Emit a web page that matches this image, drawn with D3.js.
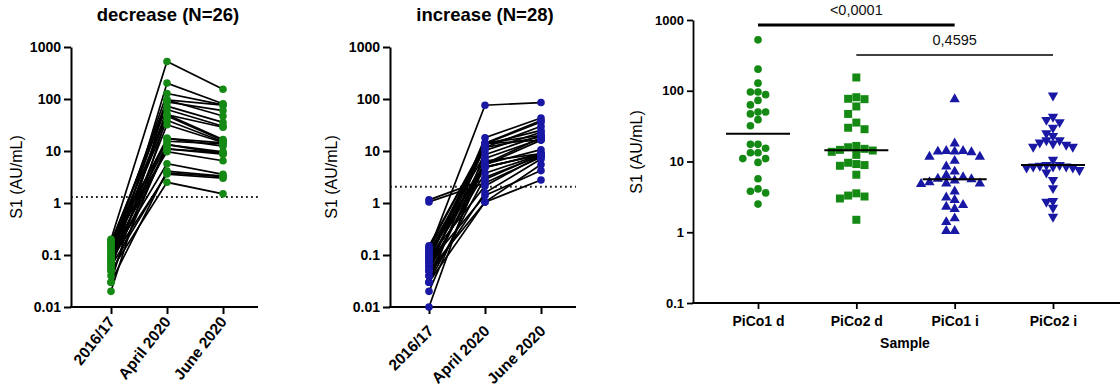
<!DOCTYPE html>
<html><head><meta charset="utf-8">
<script src="https://cdn.jsdelivr.net/npm/d3@7"></script>
<style>
html,body{margin:0;padding:0;background:#fff;}
svg{display:block;font-family:"Liberation Sans",Arial,sans-serif;}
</style></head>
<body>
<svg id="c" width="1120" height="392"></svg>
<script>
// ---------- DATA ----------
const timepoints = ["2016/17", "April 2020", "June 2020"];
const panelTitles = ["decrease (N=26)", "increase (N=28)"];
const yTicksPaired = [0.01, 0.1, 1, 10, 100, 1000];
const yTicksGroups = [0.1, 1, 10, 100, 1000];
const yLabel = "S1 (AU/mL)";

// decrease group (26 subjects), paired values per timepoint
const decBase  = [0.2,0.05,0.12,0.16,0.03,0.1,0.18,0.07,0.14,0.09,0.02,0.11,0.06,0.15,0.08,0.19,0.04,0.13,0.1,0.07,0.17,0.09,0.03,0.06,0.08,0.05];
const decApril = [525,202,128,96,96,88,73,63,50,50,47,39,32,17.5,17.5,15.4,13.3,13.3,11,11,9.7,5.7,4.1,3.8,3.6,2.5];
const decJune  = [154,81,77,47,76,60,35.5,30,16.6,28.6,15.9,15.1,14.6,14.3,12.4,13.7,9.6,8.9,9.2,8.7,6.5,3.55,3.3,3.2,3.0,1.5];
const decCutoff = 1.3;

// increase group (28 subjects)
const incBase  = [0.12,0.05,0.15,0.08,0.1,0.03,0.14,0.06,0.09,0.01,0.13,0.07,0.04,0.11,0.02,0.1,0.05,0.08,0.12,0.06,0.03,1.15,1.05,0.09,0.04,0.07,0.05,0.03];
const incApril = [76,18,14.1,14.1,13.8,13.8,13.5,11.7,11.7,10.2,8.5,7.2,6.4,5.7,5.6,5.4,4.9,4.9,4.8,3.76,3.1,2.85,2.43,2.13,1.57,1.39,1.04,1.04];
const incJune  = [85.5,43,20,38.7,16.2,36,25,30,18.6,23,20,17.2,8.9,18,10.6,16.2,8.5,8.7,8.9,8.5,8.2,8.5,7.6,8.2,7.0,4.2,5.5,2.77];
const incCutoff = 2.05;

// right panel: groups
const groupNames = ["PiCo1 d", "PiCo2 d", "PiCo1 i", "PiCo2 i"];
const pico1d = [525,202,128,96,96,88,73,63,50,50,47,39,32,17.5,17.5,15.4,13.3,13.3,11,11,9.7,5.7,4.1,3.8,3.6,2.5];
const pico2d = [154,81,77,76,60,47,35.5,30,28.6,16.6,15.9,15.1,14.6,14.3,13.7,12.4,9.6,9.2,8.9,8.7,6.5,3.55,3.3,3.2,3.0,1.5];
const pico1i = [76,18,14.1,14.1,13.8,13.8,13.5,11.7,11.7,10.2,8.5,7.2,6.4,6.0,5.7,5.6,5.4,5.1,4.9,4.9,4.8,3.76,3.1,2.85,2.43,2.3,2.13,1.57,1.39,1.04,1.04];
const pico2i = [85.5,43,38.7,36,30,25,23,20,20,18.6,18,17.2,16.2,16.2,10.6,8.9,8.9,8.7,8.5,8.5,8.5,8.2,8.2,7.6,7.0,5.5,4.2,2.77,2.7,2.22,1.66];
const xAxisTitle = "Sample";
const compFrom  = ["PiCo1 d", "PiCo2 d"];
const compTo    = ["PiCo1 i", "PiCo2 i"];
const compLabel = ["<0,0001", "0,4595"];

// ---------- STYLE ----------
const GREEN = "#148a14", BLUE = "#1818a4";
const FONT = "'Liberation Sans', Arial, sans-serif";
const svg = d3.select("#c");

function pairedPanel(opt){
  const g = svg.append("g");
  const y = d3.scaleLog().domain([0.01,1000]).range([307,47]);
  const x = d3.scalePoint().domain(timepoints).range(opt.catRange);
  g.append("text").attr("x", opt.titleX).attr("y", 21).attr("text-anchor","middle")
    .attr("font-weight","bold").attr("font-size","18.5px").text(opt.title);
  g.append("text").attr("transform",`translate(${opt.ylabX},177) rotate(-90)`)
    .attr("text-anchor","middle").attr("dominant-baseline","central")
    .attr("font-size","16px").text(yLabel);
  g.append("line").attr("x1",opt.axisX).attr("x2",opt.axisEnd)
    .attr("y1",y(opt.cutoff)).attr("y2",y(opt.cutoff))
    .attr("stroke","#222").attr("stroke-width",2).attr("stroke-dasharray","1.8,3.2");
  const ya = g.append("g").attr("transform",`translate(${opt.axisX},0)`)
    .call(d3.axisLeft(y).tickValues(yTicksPaired).tickFormat(d=>String(d)).tickSize(7).tickSizeOuter(0).tickPadding(3));
  ya.select(".domain").attr("stroke","#000").attr("stroke-width",2);
  ya.selectAll(".tick line").attr("stroke","#000").attr("stroke-width",2);
  ya.selectAll(".tick text").attr("font-family",FONT).attr("font-size","14px").attr("font-weight","bold").attr("fill","#000");
  g.append("line").attr("x1",opt.axisX-1).attr("x2",opt.axisEnd).attr("y1",307).attr("y2",307)
    .attr("stroke","#000").attr("stroke-width",2);
  const xa = g.append("g").attr("transform","translate(0,307)")
    .call(d3.axisBottom(x).tickSize(7).tickSizeOuter(0));
  xa.select(".domain").remove();
  xa.selectAll(".tick line").attr("stroke","#000").attr("stroke-width",2);
  xa.selectAll(".tick text").attr("font-family",FONT).attr("font-size","15.5px").attr("font-weight","bold").attr("fill","#000")
    .attr("text-anchor","end").attr("x",0).attr("y",0).attr("dy",0)
    .attr("transform",`translate(${opt.lblDx},${opt.lblDy}) rotate(${opt.lblRot})`);
  const subjects = opt.base.map((b,i)=>[b, opt.april[i], opt.june[i]]);
  const line = d3.line().x((d,i)=>x(timepoints[i])).y(d=>y(d));
  g.append("g").selectAll("path").data(subjects).join("path")
    .attr("d", line).attr("fill","none").attr("stroke","#000").attr("stroke-width",1.7);
  const pts = [];
  subjects.forEach(s=>s.forEach((v,i)=>pts.push({t:timepoints[i], v})));
  g.append("g").selectAll("circle").data(pts).join("circle")
    .attr("cx",d=>x(d.t)).attr("cy",d=>y(d.v)).attr("r",3.8).attr("fill",opt.color);
}

pairedPanel({title:panelTitles[0], titleX:168, ylabX:16, axisX:71, axisEnd:258, catRange:[111,223],
  base:decBase, april:decApril, june:decJune, cutoff:decCutoff, color:GREEN, lblDx:4, lblDy:15, lblRot:-52});
pairedPanel({title:panelTitles[1], titleX:485, ylabX:331, axisX:390, axisEnd:576, catRange:[429,541],
  base:incBase, april:incApril, june:incJune, cutoff:incCutoff, color:BLUE, lblDx:5, lblDy:25, lblRot:-45});

// ---------- RIGHT PANEL ----------
(function(){
  const g = svg.append("g");
  const y = d3.scaleLog().domain([0.1,1000]).range([303,20]);
  const x = d3.scalePoint().domain(groupNames).range([758,1053]);
  const groups = [
    {name:groupNames[0], vals:pico1d, color:GREEN, sym:d3.symbolCircle, size:46, rot:0, step:7.6, dia:7.4},
    {name:groupNames[1], vals:pico2d, color:GREEN, sym:d3.symbolSquare, size:64, rot:0, step:8.2, dia:8.0},
    {name:groupNames[2], vals:pico1i, color:BLUE,  sym:d3.symbolTriangle, size:46, rot:0, step:8.4, dia:8.0},
    {name:groupNames[3], vals:pico2i, color:BLUE,  sym:d3.symbolTriangle, size:46, rot:180, step:6.6, dia:6.6}
  ];
  g.append("text").attr("transform",`translate(636,152) rotate(-90)`)
    .attr("text-anchor","middle").attr("dominant-baseline","central")
    .attr("font-size","16px").text(yLabel);
  const ya = g.append("g").attr("transform","translate(693,0)")
    .call(d3.axisLeft(y).tickValues(yTicksGroups).tickFormat(d=>String(d)).tickSize(6).tickSizeOuter(0).tickPadding(3));
  ya.select(".domain").attr("stroke","#000").attr("stroke-width",1.8);
  ya.selectAll(".tick line").attr("stroke","#000").attr("stroke-width",1.8);
  ya.selectAll(".tick text").attr("font-family",FONT).attr("font-size","13px").attr("font-weight","bold").attr("fill","#000");
  g.append("line").attr("x1",692).attr("x2",1120).attr("y1",303).attr("y2",303).attr("stroke","#000").attr("stroke-width",1.8);
  const xa = g.append("g").attr("transform","translate(0,303)")
    .call(d3.axisBottom(x).tickSize(6).tickSizeOuter(0).tickPadding(7));
  xa.select(".domain").remove();
  xa.selectAll(".tick line").attr("stroke","#000").attr("stroke-width",1.8);
  xa.selectAll(".tick text").attr("font-family",FONT).attr("font-size","14px").attr("font-weight","bold").attr("fill","#000");
  g.append("text").attr("x",905).attr("y",348).attr("text-anchor","middle")
    .attr("font-weight","bold").attr("font-size","14px").text(xAxisTitle);

  function swarm(vals, cx, step, dia){
    const pts = vals.map(v=>({v, yy:y(v)})).sort((a,b)=>a.yy-b.yy);
    const placed = [];
    pts.forEach(p=>{
      for(let k=0;k<40;k++){
        const off = (k===0?0:(k%2===1?-1:1)*Math.ceil(k/2))*step;
        const ok = placed.every(q=>{ const dx=q.xx-(cx+off), dy=q.yy-p.yy; return dx*dx+dy*dy >= dia*dia; });
        if(ok){ p.xx = cx+off; placed.push(p); break; }
      }
    });
    return placed;
  }
  groups.forEach(gr=>{
    const cx = x(gr.name);
    const med = d3.median(gr.vals);
    const pts = swarm(gr.vals, cx, gr.step, gr.dia);
    g.append("g").selectAll("path").data(pts).join("path")
      .attr("d", d3.symbol().type(gr.sym).size(gr.size))
      .attr("transform", d=>`translate(${d.xx},${d.yy}) rotate(${gr.rot})`)
      .attr("fill", gr.color);
    g.append("line").attr("x1",cx-32).attr("x2",cx+32).attr("y1",y(med)).attr("y2",y(med))
      .attr("stroke","#000").attr("stroke-width",2);
  });

  const barY = [25, 55], barW = [3, 1.5], textY = [15, 45];
  compLabel.forEach((lab,i)=>{
    const x1 = x(compFrom[i]), x2 = x(compTo[i]);
    g.append("line").attr("x1",x1).attr("x2",x2).attr("y1",barY[i]).attr("y2",barY[i])
      .attr("stroke","#000").attr("stroke-width",barW[i]);
    g.append("text").attr("x",(x1+x2)/2).attr("y",textY[i]).attr("text-anchor","middle")
      .attr("font-size","14.5px").attr("fill","#111").text(lab);
  });
})();
</script>
</body></html>
